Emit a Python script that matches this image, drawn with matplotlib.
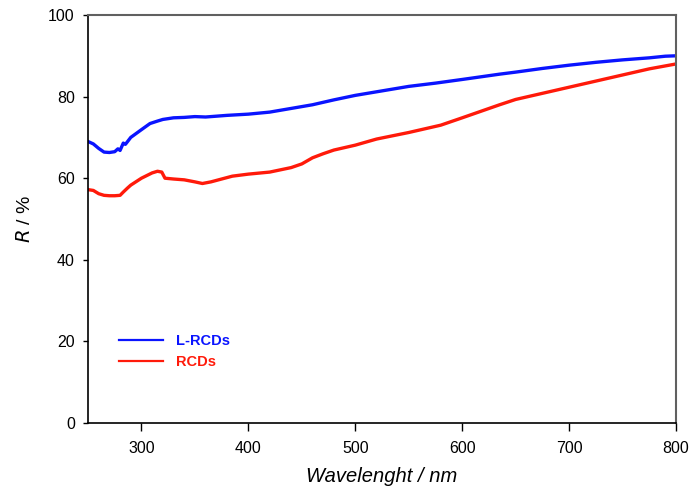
import matplotlib
matplotlib.use("Agg")
import matplotlib.pyplot as plt
import numpy as np

plt.rcParams['font.family'] = ['Liberation Sans', 'DejaVu Sans']

# L-RCDs (blue)
wl_blue = [250, 255, 260, 265, 270, 275, 278, 280, 283, 285, 290, 300, 308, 315, 320, 330,
           340, 350, 360, 370, 380, 400, 420, 440, 460, 480, 500, 525, 550, 575, 600, 635,
           650, 675, 700, 725, 750, 775, 790, 800]
r_blue = [69.0, 68.4, 67.3, 66.4, 66.3, 66.5, 67.2, 66.8, 68.6, 68.3, 70.0, 71.9, 73.4, 74.0,
          74.4, 74.8, 74.9, 75.1, 75.0, 75.2, 75.4, 75.7, 76.2, 77.1, 78.0, 79.2, 80.3, 81.4,
          82.5, 83.3, 84.2, 85.5, 86.0, 86.9, 87.7, 88.4, 89.0, 89.5, 89.9, 90.0]

# RCDs (red)
wl_red = [250, 255, 260, 265, 270, 275, 280, 283, 287, 290, 300, 310, 315, 319, 322, 330,
          340, 350, 357, 365, 375, 385, 400, 420, 440, 450, 460, 470, 480, 500, 520, 550,
          580, 600, 635, 650, 675, 700, 725, 750, 775, 800]
r_red = [57.2, 57.0, 56.2, 55.8, 55.7, 55.7, 55.8, 56.6, 57.6, 58.3, 60.0, 61.3, 61.7, 61.5,
         60.0, 59.8, 59.6, 59.1, 58.7, 59.1, 59.8, 60.5, 61.0, 61.5, 62.6, 63.5, 65.0, 66.0,
         66.9, 68.1, 69.6, 71.2, 73.0, 74.8, 78.0, 79.3, 80.8, 82.3, 83.8, 85.3, 86.8, 88.0]

x_ticks = [300, 400, 500, 600, 700, 800]
y_ticks = [0, 20, 40, 60, 80, 100]

fig = plt.figure(figsize=(6.92, 4.94), dpi=100)
ax = fig.add_axes([88/692, 71/494, 588/692, 408/494])

ax.plot(wl_blue, r_blue, color='#0a14ff', lw=2.4, label='L-RCDs')
ax.plot(wl_red, r_red, color='#ff1a0a', lw=2.4, label='RCDs')

ax.set_xlim(250, 800)
ax.set_ylim(0, 100)
ax.set_xticks(x_ticks)
ax.set_yticks(y_ticks)
ax.tick_params(axis='both', direction='out', labelsize=11.5, width=1.0)
ax.tick_params(axis='x', length=5.5, pad=7.5)
ax.tick_params(axis='y', length=3.5, pad=6)

for s in ['left', 'bottom']:
    ax.spines[s].set_color('black')
    ax.spines[s].set_linewidth(1.2)
for s in ['top', 'right']:
    ax.spines[s].set_color('#606060')
    ax.spines[s].set_linewidth(1.5)

ax.set_xlabel('Wavelenght / nm', fontsize=14.5, style='italic', labelpad=8)
ax.set_ylabel(r'$\it{R}$ / %', fontsize=14, labelpad=10)

leg = ax.legend(loc='lower left', bbox_to_anchor=(0.03, 0.1), frameon=False,
                handlelength=3.0, handletextpad=0.9, labelspacing=0.5,
                prop={'weight': 'bold', 'size': 10.5})
for line, txt in zip(leg.get_lines(), leg.get_texts()):
    line.set_linewidth(1.6)
    txt.set_color(line.get_color())

fig.savefig('out.png', dpi=100)
